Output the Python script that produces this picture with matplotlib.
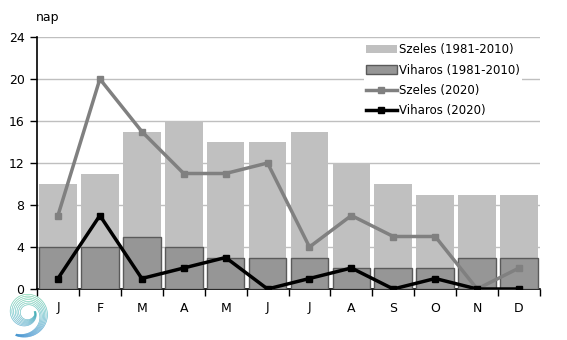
import numpy as np
import matplotlib
matplotlib.use("Agg")
import matplotlib.pyplot as plt
from matplotlib.collections import LineCollection
from matplotlib.colors import LinearSegmentedColormap

months = ["J", "F", "M", "A", "M", "J", "J", "A", "S", "O", "N", "D"]
szeles_ref = [10, 11, 15, 16, 14, 14, 15, 12, 10, 9, 9, 9]
viharos_ref = [4, 4, 5, 4, 3, 3, 3, 2, 2, 2, 3, 3]
szeles_2020 = [7, 20, 15, 11, 11, 12, 4, 7, 5, 5, 0, 2]
viharos_2020 = [1, 7, 1, 2, 3, 0, 1, 2, 0, 1, 0, 0]
yticks = [0, 4, 8, 12, 16, 20, 24]

plt.rcParams["font.family"] = ["DejaVu Sans"]
fig = plt.figure(figsize=(5.67, 3.4), dpi=100)
ax = fig.add_axes([37 / 567, 1 - 289 / 340, 503 / 567, 252 / 340])

x = np.arange(len(months))
b1 = ax.bar(x, szeles_ref, width=0.9, color="#c0c0c0", edgecolor="none",
            label="Szeles (1981-2010)", zorder=2)
b2 = ax.bar(x, viharos_ref, width=0.9, color="#969696", edgecolor="#5a5a5a",
            linewidth=1.0, label="Viharos (1981-2010)", zorder=3)
l1, = ax.plot(x, szeles_2020, color="#808080", lw=2.5, marker="s", ms=5,
              label="Szeles (2020)", zorder=4)
l2, = ax.plot(x, viharos_2020, color="black", lw=2.5, marker="s", ms=5,
              label="Viharos (2020)", zorder=5)

ax.set_xlim(-0.5, len(months) - 0.5)
ax.set_ylim(0, 24)
ax.set_yticks(yticks)
ax.yaxis.grid(True, color="#bfbfbf", lw=1.0, zorder=0)
ax.set_axisbelow(True)
ax.set_xticks(x)
ax.set_xticklabels(months)
ax.set_xticks(np.arange(-0.5, len(months), 1), minor=True)
ax.tick_params(axis="x", which="major", length=0, pad=9, labelsize=9)
ax.tick_params(axis="x", which="minor", length=5, width=1, direction="out")
ax.tick_params(axis="y", length=5, width=1, direction="out", labelsize=9, pad=4)
for s in ["top", "right"]:
    ax.spines[s].set_visible(False)
for s in ["left", "bottom"]:
    ax.spines[s].set_color("black")
    ax.spines[s].set_linewidth(1.2)

fig.text(36 / 567, 1 - 17 / 340, "nap", fontsize=9, ha="left", va="center")

leg = ax.legend([b1, b2, l1, l2],
                [h.get_label() for h in (b1, b2, l1, l2)],
                loc="upper right", bbox_to_anchor=(0.975, 1.005), fontsize=8.5,
                frameon=True, fancybox=False, edgecolor="none",
                facecolor="white", framealpha=1.0, handlelength=2.6,
                handletextpad=0.2, labelspacing=0.62, borderpad=0.15)
leg.set_zorder(10)

# spiral emblem in the lower left corner
lax = fig.add_axes([0 / 567, 1 - 340 / 340, 52 / 567, 52 / 340])
lax.set_xlim(-24, 24)
lax.set_ylim(-24, 24)
lax.set_aspect("equal")
lax.axis("off")
cmap = LinearSegmentedColormap.from_list("swirl", ["#3a8fd0", "#45b5b8", "#5ccf8a"])
theta = np.linspace(np.radians(-115), np.radians(370), 300)
t = (theta - theta[0]) / (theta[-1] - theta[0])
r_out = 23 - 14 * t
width = 1.5 + 8.5 * np.sin(np.pi * np.clip(t * 1.05, 0, 1))
segs, cols = [], []
for j in range(7):
    r = r_out - width * j / 6
    px = r * np.cos(theta) + 0
    py = r * np.sin(theta) + 1
    pts = np.column_stack([px, py])
    seg = np.stack([pts[:-1], pts[1:]], axis=1)
    segs.extend(seg)
    cols.extend(cmap((py[:-1] + 20) / 44))
lax.add_collection(LineCollection(segs, colors=cols, linewidths=0.45))

fig.savefig("out.png", dpi=100)
